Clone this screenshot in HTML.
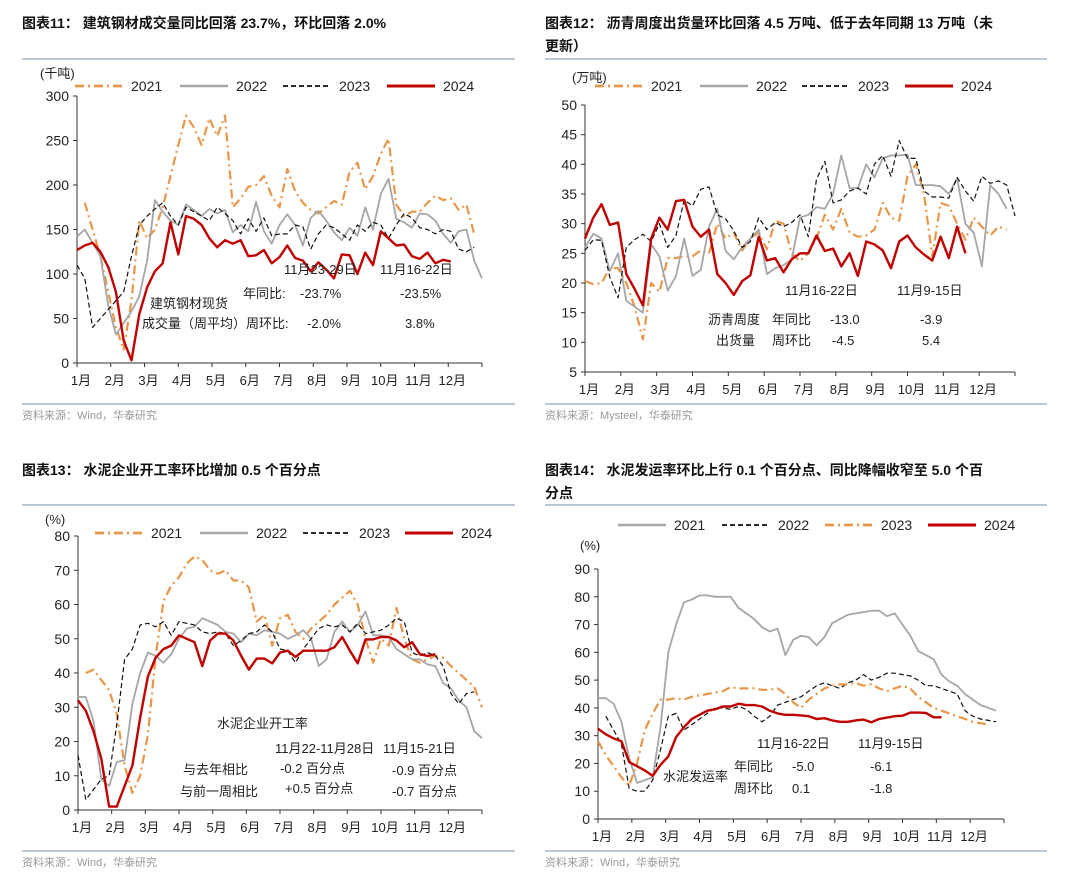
<!DOCTYPE html>
<html><head><meta charset="utf-8"><style>
body{margin:0;background:#fff;}
svg text{font-family:"Liberation Sans","Noto Sans CJK SC",sans-serif;}
</style></head><body>
<svg id="root" width="1080" height="879" viewBox="0 0 1080 879" xmlns="http://www.w3.org/2000/svg">
<g font-weight="bold" font-size="14" fill="#111">
<text x="22" y="28">图表11：  建筑钢材成交量同比回落 23.7%，环比回落 2.0%</text>
<text x="545" y="28">图表12：  沥青周度出货量环比回落 4.5 万吨、低于去年同期 13 万吨（未</text>
<text x="545" y="51">更新）</text>
<text x="22" y="475">图表13：  水泥企业开工率环比增加 0.5 个百分点</text>
<text x="545" y="475">图表14：  水泥发运率环比上行 0.1 个百分点、同比降幅收窄至 5.0 个百</text>
<text x="545" y="498">分点</text>
</g>
<g stroke="#8fa3bf" stroke-width="1.2">
<line x1="22" y1="59" x2="515" y2="59"/><line x1="545" y1="59" x2="1047" y2="59"/>
<line x1="22" y1="404" x2="515" y2="404"/><line x1="545" y1="404" x2="1047" y2="404"/>
<line x1="22" y1="505" x2="515" y2="505"/><line x1="545" y1="505" x2="1047" y2="505"/>
<line x1="22" y1="851" x2="515" y2="851"/><line x1="545" y1="851" x2="1047" y2="851"/>
</g>
<g font-size="11" fill="#999">
<text x="22" y="419">资料来源：Wind，华泰研究</text>
<text x="545" y="419">资料来源：Mysteel，华泰研究</text>
<text x="22" y="866">资料来源：Wind，华泰研究</text>
<text x="545" y="866">资料来源：Wind，华泰研究</text>
</g>
</svg>
<script>
const months = ["1月","2月","3月","4月","5月","6月","7月","8月","9月","10月","11月","12月"];
// Chart 11 data (千吨)
const c1Ticks = [0,50,100,150,200,250,300];
const c1y2021 = [null,180,150,120,80,40,15,70,160,140,150,175,210,245,278,265,245,275,255,278,175,185,198,200,210,188,175,218,193,180,172,168,175,182,178,215,225,195,210,235,252,178,165,170,170,180,188,183,185,172,178,145];
const c1y2022 = [142,150,135,120,65,32,45,58,75,115,183,170,160,155,178,172,165,173,168,172,147,155,148,181,148,134,155,167,155,132,163,171,160,147,138,152,143,175,150,190,207,162,158,152,168,167,160,145,135,148,150,115,95];
const c1y2023 = [110,95,40,50,60,70,80,120,155,165,173,180,165,155,175,170,165,160,175,168,160,145,162,148,163,143,145,145,155,153,128,145,155,152,145,138,155,148,158,155,140,155,168,163,152,150,145,150,148,128,125,130];
const c1y2024 = [127,132,135,125,108,80,25,3,55,85,103,112,158,122,165,162,155,140,130,138,134,138,120,121,127,112,119,132,118,115,103,113,105,95,122,121,100,124,110,148,140,132,133,120,117,124,112,116,114];
// Chart 12 data (万吨)
const c2Ticks = [5,10,15,20,25,30,35,40,45,50];
const c2y2021 = [20.3,19.8,20,22.5,22.5,20,16,10.5,20,18.5,24.2,24.2,24.5,24.5,25.5,25,30,27.5,28.5,25.5,27.5,28.5,25.7,30.5,30,25,23.7,25,27.5,31.5,29,32.5,28.5,27.8,28,29,33.5,31,30.5,38,40,35,24.5,33.5,33,30,27.3,31,29.5,28,29.5,29];
const c2y2022 = [26,28.3,27.5,22,25,17,16,15,26.5,24.5,18.7,21.2,27.5,21.2,22.2,29.5,32.5,25.4,24,26,27.5,29,21.5,22.5,23,24,31,31.5,32.8,32.5,35,41.5,36,36,40,37.8,41,41.5,41.5,41.6,36.5,36.5,36.5,36.3,35,37.6,30,28.5,22.8,36.5,35,32.5];
const c2y2023 = [25.5,27.3,27.2,21,17.5,26,27.3,28.2,27,30,26,28,34,33,35.8,36.2,31.5,30.8,28.8,26,27,31,29,30.2,29.5,30.2,31.5,27.8,37.5,40.5,33.5,34,35.5,36,35,40,41.5,38,44,41,41,35.5,34.5,34.5,34.3,37.8,35.5,33.8,38,36.8,37.2,36.5,31.3];
const c2y2024 = [27.5,31,33.3,29.8,30.2,21.5,19,16.2,27.5,31,29,33.8,34,29.5,27.8,29,21.5,20,18,20.3,21.3,27.8,23.8,24.2,21.8,24,25,25,28,25.4,25.8,22.8,25,21.2,27,26.5,25.5,22.5,27,28,26,24.8,23.8,27.8,24.2,29.5,25];
// Chart 13 data (%)
const c3Ticks = [0,10,20,30,40,50,60,70,80];
const c3y2021 = [null,40,41,38,35,28,13,5,10,22,45,61,65.5,68,72,74,73,70,69,70,67,67,65,55,57,48,56,57,52,50,53,55,57,60,62,64,60,50,43,50,48,59,50,44,43,44,45,44.5,42,40,38,36,30];
const c3y2022 = [33,33,26,9,7,14,14.5,31,40,46,45,43,45.5,50,53,53.5,56,55,54,52,51.5,49,51.5,51,52.5,52,51.5,50,51,52.5,50,42,44,52,55,52,54,58,51,51,50.5,47,45.5,44,44,42.5,42,37,35.5,32,30,23,21];
const c3y2023 = [16,3,6,9,10,25,44,47,54,54.5,53.5,55,51,55,54.5,54,52,51.5,52,51.5,48,49.5,51.5,52,54,52,47,46.5,43,47,50,53,54,53.5,54,52,54.5,51.5,52,52.5,54,56,55,46,45,46,45,42,34,31,34,34.5];
const c3y2024 = [32,29,23,15,1,1,7,13,27,39,44.5,47,48,51,50,49,42,49.5,51.5,51.5,49.5,45,41,44.2,44.2,42.8,46,46.5,44.7,46.5,46.5,46.5,46.5,47.5,50.5,46.5,42.8,49.8,49.8,50.5,50.5,49.5,47.5,49,45.5,45,45.5];
// Chart 14 data (%)
const c4Ticks = [0,10,20,30,40,50,60,70,80,90];
const c4y2021 = [43.5,43.5,41.5,35,22,13,14,15,33,60,70,78,79,80.5,80.5,80,80,80,76,74,72,69,67.5,68.5,59,64.5,66,65.5,62.5,65.5,70.5,72,73.5,74,74.5,75,75,73,74,70,66,60.5,59,57.5,52,49.5,48,45,43,41,40,39];
const c4y2022 = [null,37,32,27,11,10,10,14,25,37,38,32,34,36,38,40,40,39.5,40.5,39.5,37,35,37,41,42,43,44,46,48,49,48,47,49,50,52,50,51,52.5,52.5,52,51.5,50,48,48,47,46,45,39,37,36,35.5,35];
const c4y2023 = [28,23,19,15,12,20,32,38,43,43,43.5,43,44,44.5,45,45.5,46,47.5,47,47,47,46.5,46.5,47,45,42,40,43,45,47,48,48.5,48.5,49,48,48.5,47,46,47,48,47,44,42,40,39,38,37,36,35,34.5,34];
const c4y2024 = [32.5,30.5,29,28,20.5,19,17.5,15.5,19.5,22.5,29.5,33,36,37.5,39,39.5,40.5,40.5,41.5,41,41,40.5,39,38,37.5,37.5,37.3,37,36,36.3,35.5,35,35,35.5,35.8,34.8,36,36.5,37,37.2,38.3,38.3,38.2,36.6,36.6];

const NS = "http://www.w3.org/2000/svg";
const root = document.getElementById("root");
const ORANGE = "#e8964a", GREY = "#a6a6a6", BLACK = "#111", RED = "#c00000";
const styles = {
  "2021o": {c: ORANGE, w: 2.2, d: "9,4,2,4"},
  "2022g": {c: GREY, w: 1.8, d: ""},
  "2023k": {c: BLACK, w: 1.2, d: "5,3"},
  "2024r": {c: RED, w: 2.4, d: ""},
  "2021g": {c: GREY, w: 1.8, d: ""},
  "2022k": {c: BLACK, w: 1.2, d: "5,3"},
  "2023o": {c: ORANGE, w: 2.2, d: "9,4,2,4"}
};
function mk(tag, attrs, parent) {
  const e = document.createElementNS(NS, tag);
  for (const k in attrs) e.setAttribute(k, attrs[k]);
  parent.appendChild(e);
  return e;
}
function chart(cfg) {
  const g = mk("g", {}, root);
  
  
  const {x0, x1, yTop, yBot, vMin, vMax} = cfg;
  const sx = i => x0 + i * (x1 - x0) / 52;
  const sy = v => yBot - (v - vMin) / (vMax - vMin) * (yBot - yTop);
  const ax = mk("g", {stroke: "#333", "stroke-width": 1}, g);
  
  
  mk("line", {x1: x0, y1: yTop, x2: x0, y2: yBot}, ax);
  mk("line", {x1: x0, y1: yBot, x2: x1, y2: yBot}, ax);
  cfg.ticks.forEach(t => {
    mk("line", {x1: x0 - 4, y1: sy(t), x2: x0, y2: sy(t)}, ax);
    const tx = mk("text", {x: x0 - 8, y: sy(t) + 5, "text-anchor": "end", "font-size": 14, fill: "#222", stroke: "none"}, g);
    
    
    tx.textContent = t;
  });
  const mw = (x1 - x0) / 12;
  months.forEach((m, i) => {
    const x = x0 + i * mw;
    mk("line", {x1: x, y1: yBot, x2: x, y2: yBot + 4}, ax);
    const tx = mk("text", {x: x + 4, y: yBot + 22, "text-anchor": "middle", "font-size": 13, fill: "#222"}, g);
    
    
    tx.textContent = m;
  });
  mk("line", {x1: x1, y1: yBot, x2: x1, y2: yBot + 4, stroke: "#333"}, ax);
  cfg.series.forEach(s => {
    const st = styles[s.style];
    let d = "", pen = false;
    s.data.forEach((v, i) => {
      if (v === null) { pen = false; return; }
      d += (pen ? "L" : "M") + sx(i).toFixed(1) + "," + sy(v).toFixed(1);
      pen = true;
    });
    const p = mk("path", {d: d, fill: "none", stroke: st.c, "stroke-width": st.w, "stroke-dasharray": st.d, "stroke-linejoin": "round"}, g);
    
    
  });
  cfg.series.forEach((s, k) => {
    const st = styles[s.style];
    const L = cfg.legend[k];
    const lg = mk("g", {}, g);
    
    
    mk("line", {x1: L[0], y1: cfg.ly, x2: L[0] + 48, y2: cfg.ly, stroke: st.c, "stroke-width": st.w + 0.6, "stroke-dasharray": st.d}, lg);
    const t = mk("text", {x: L[0] + 56, y: cfg.ly + 5, "font-size": 14, fill: "#222"}, lg);
    t.textContent = s.label;
  });
  cfg.notes.forEach(n => {
    const t = mk("text", {x: n[0], y: n[1], "font-size": 13, fill: "#222"}, g);
    
    
    t.textContent = n[2];
  });
}
chart({name: "chart-11", x0: 77, x1: 482, yTop: 96, yBot: 363, vMin: 0, vMax: 300, ticks: c1Ticks, ly: 86,
  legend: [[75],[180],[283],[387]],
  series: [{label: "2021", style: "2021o", data: c1y2021},{label: "2022", style: "2022g", data: c1y2022},{label: "2023", style: "2023k", data: c1y2023},{label: "2024", style: "2024r", data: c1y2024}],
  notes: [[40,78,"(千吨)"],[284,274,"11月23-29日"],[380,274,"11月16-22日"],[243,298,"年同比:"],[300,298,"-23.7%"],[400,298,"-23.5%"],[150,308,"建筑钢材现货"],[142,328,"成交量（周平均）周环比:"],[307,328,"-2.0%"],[405,328,"3.8%"]]});
chart({name: "chart-12", x0: 585, x1: 1015, yTop: 105, yBot: 372, vMin: 5, vMax: 50, ticks: c2Ticks, ly: 86,
  legend: [[595],[700],[802],[905]],
  series: [{label: "2021", style: "2021o", data: c2y2021},{label: "2022", style: "2022g", data: c2y2022},{label: "2023", style: "2023k", data: c2y2023},{label: "2024", style: "2024r", data: c2y2024}],
  notes: [[572,82,"(万吨)"],[785,295,"11月16-22日"],[897,295,"11月9-15日"],[708,324,"沥青周度"],[772,324,"年同比"],[830,324,"-13.0"],[920,324,"-3.9"],[716,345,"出货量"],[772,345,"周环比"],[832,345,"-4.5"],[922,345,"5.4"]]});
chart({name: "chart-13", x0: 78, x1: 482, yTop: 536, yBot: 810, vMin: 0, vMax: 80, ticks: c3Ticks, ly: 533,
  legend: [[95],[200],[303],[405]],
  series: [{label: "2021", style: "2021o", data: c3y2021},{label: "2022", style: "2022g", data: c3y2022},{label: "2023", style: "2023k", data: c3y2023},{label: "2024", style: "2024r", data: c3y2024}],
  notes: [[45,524,"(%)"],[217,728,"水泥企业开工率"],[275,753,"11月22-11月28日"],[383,753,"11月15-21日"],[183,774,"与去年相比"],[280,773,"-0.2 百分点"],[392,775,"-0.9 百分点"],[180,796,"与前一周相比"],[285,793,"+0.5 百分点"],[392,796,"-0.7 百分点"]]});
chart({name: "chart-14", x0: 598, x1: 1004, yTop: 569, yBot: 819, vMin: 0, vMax: 90, ticks: c4Ticks, ly: 525,
  legend: [[618],[722],[825],[928]],
  series: [{label: "2021", style: "2021g", data: c4y2021},{label: "2022", style: "2022k", data: c4y2022},{label: "2023", style: "2023o", data: c4y2023},{label: "2024", style: "2024r", data: c4y2024}],
  notes: [[580,550,"(%)"],[757,748,"11月16-22日"],[858,748,"11月9-15日"],[734,771,"年同比"],[792,771,"-5.0"],[870,771,"-6.1"],[734,793,"周环比"],[792,793,"0.1"],[870,793,"-1.8"],[663,781,"水泥发运率"]]});
</script>
</body></html>
